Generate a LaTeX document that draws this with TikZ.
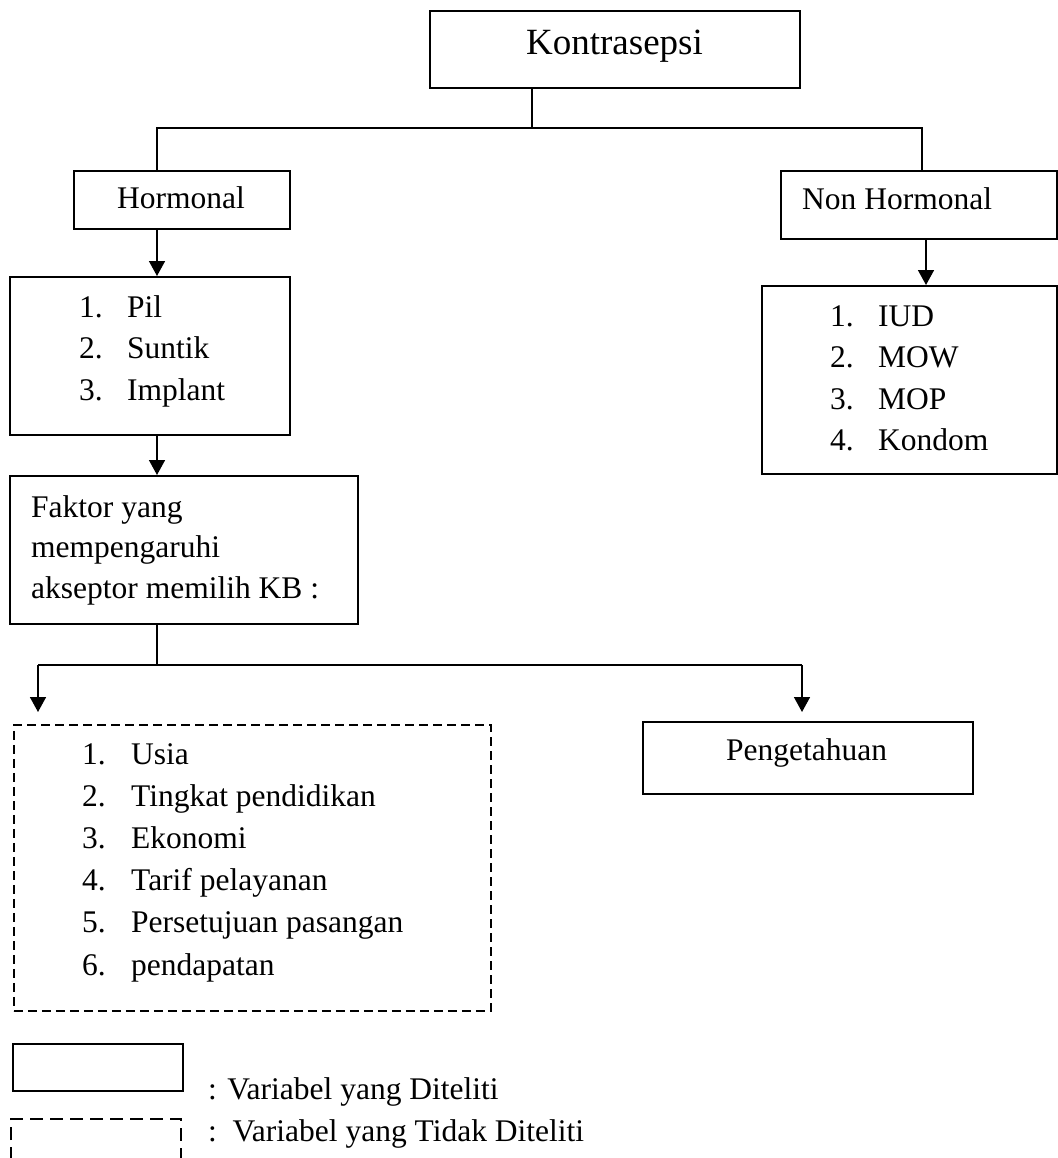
\documentclass[tikz,border=0pt]{standalone}
\usepackage{fontspec}
\setmainfont{Liberation Serif}
\usetikzlibrary{arrows.meta}
\newcommand{\bodysize}{\fontsize{31.5}{41.5}\selectfont}
\newcommand{\titlesize}{\fontsize{37}{44}\selectfont}
\tikzset{
  box/.style={draw, line width=1.8pt, inner sep=0pt, anchor=north west},
  dashbox/.style={box, line width=1.6pt, dash pattern=on 9pt off 5pt},
  txt/.style={anchor=base west, inner sep=0pt, font=\bodysize},
  link/.style={line width=1.6pt},
  arrow/.style={link, -{Triangle[length=15pt,width=16pt]}},
}

\begin{document}
\begin{tikzpicture}[x=1pt,y=-1pt]
    \useasboundingbox (0,0) rectangle (1057,1158);

    % boxes
    \node[box, minimum width=370pt, minimum height=77pt] (kontrasepsi) at (429,10) {};
    \node[box, minimum width=216pt, minimum height=58pt] (hormonal) at (73,170) {};
    \node[box, minimum width=276pt, minimum height=68pt] (nonhormonal) at (780,170) {};
    \node[box, minimum width=280pt, minimum height=158pt] (pil) at (9,276) {};
    \node[box, minimum width=295pt, minimum height=188pt] (iud) at (761,285) {};
    \node[box, minimum width=348pt, minimum height=148pt] (faktor) at (9,475) {};
    \node[dashbox, minimum width=477pt, minimum height=286pt] (lain) at (13,724) {};
    \node[box, minimum width=330pt, minimum height=72pt] (pengetahuan) at (642,721) {};

    % texts
    \node[anchor=base, inner sep=0pt, font=\titlesize] (kontrasepsi-txt) at (614.5,55) {Kontrasepsi};
    \node[txt] (hormonal-txt) at (117,209) {Hormonal};
    \node[txt] (nonhormonal-txt) at (802,210) {Non Hormonal};
    \foreach \name [count=\i] in {Pil, Suntik, Implant}
        \node[txt] (pil-\i) at (79,{317+41.5*(\i-1)}) {\makebox[48pt][l]{\i.}\name};
    \foreach \name [count=\i] in {IUD, MOW, MOP, Kondom}
        \node[txt] (iud-\i) at (830,{326+41.5*(\i-1)}) {\makebox[48pt][l]{\i.}\name};
    \foreach \line [count=\i] in {Faktor yang, mempengaruhi, akseptor memilih KB :}
        \node[txt] (faktor-\i) at (31,{517+40.5*(\i-1)}) {\line};
    \foreach \name [count=\i] in {Usia, Tingkat pendidikan, Ekonomi, Tarif pelayanan, Persetujuan pasangan, pendapatan}
        \node[txt] (lain-\i) at (82,{764+42.2*(\i-1)}) {\makebox[49pt][l]{\i.}\name};
    \node[txt] (pengetahuan-txt) at (726,760) {Pengetahuan};

    % connectors
    \coordinate (split) at (532,128);
    \coordinate (busL) at (157,128);
    \coordinate (busR) at (922,128);
    \coordinate (armR) at (926,0);
    \draw[link] (kontrasepsi.south -| split) -- (split);
    \draw[link] (hormonal.north -| busL) -- (busL) -- (busR) -- (nonhormonal.north -| busR);
    \draw[arrow] (hormonal.south -| busL) -- (pil.north -| busL);
    \draw[arrow] (pil.south -| busL) -- (faktor.north -| busL);
    \draw[arrow] (nonhormonal.south -| armR) -- (iud.north -| armR);

    \coordinate (split2) at (157,665);
    \coordinate (forkL) at (38,665); \coordinate (forkR) at (802,665);
    \coordinate (tipL) at (38,712); \coordinate (tipR) at (802,712);
    \draw[link] (faktor.south -| split2) -- (split2);
    \draw[link] (forkL) -- (forkR);
    \draw[arrow] (forkL) -- (tipL);
    \draw[arrow] (forkR) -- (tipR);

    % legend
    \node[box, minimum width=170pt, minimum height=47pt] (legend-ya) at (12,1043) {};
    \draw[link, dash pattern=on 13pt off 7pt] (11,1160) -- (11,1119) -- (181,1119) -- (181,1160);
    \node[txt] (legend-ya-txt) at (208,1099) {: Variabel yang Diteliti};
    \node[txt] (legend-tidak-txt) at (208,1141) {:~~Variabel yang Tidak Diteliti};
\end{tikzpicture}
\end{document}
